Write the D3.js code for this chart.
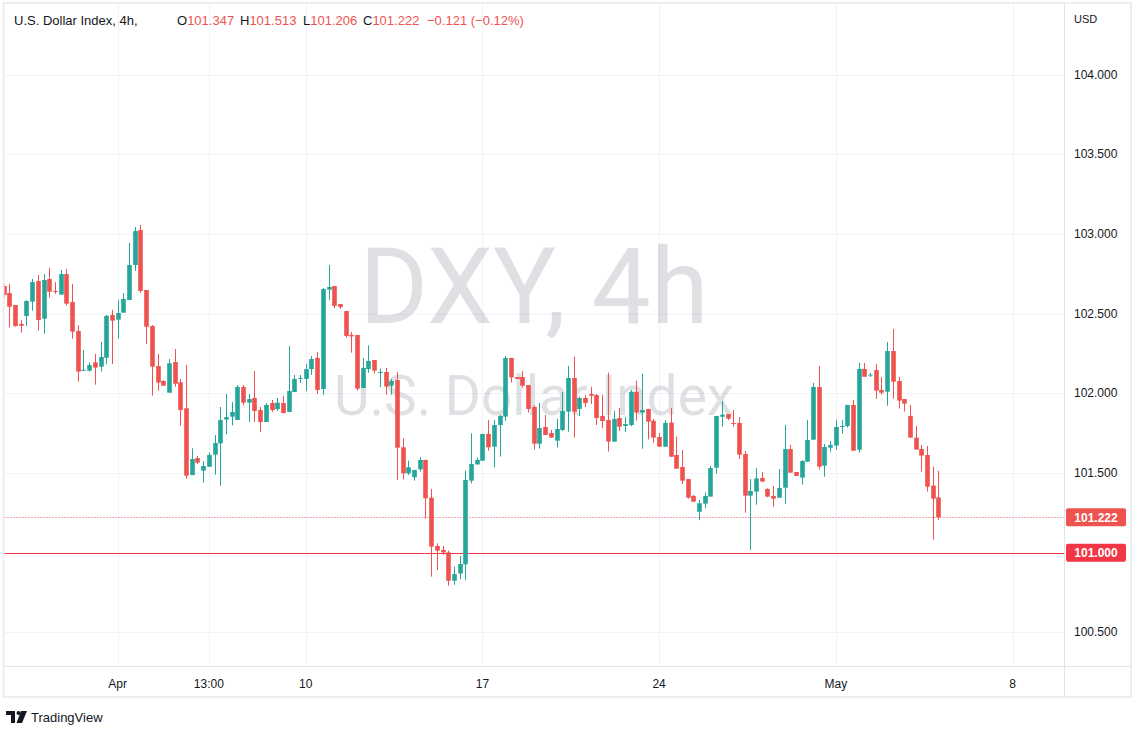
<!DOCTYPE html>
<html>
<head>
<meta charset="utf-8">
<script src="https://cdn.jsdelivr.net/npm/d3@7"></script>
<style>
  body { margin: 0; background: #ffffff; }
  svg { display: block; font-family: "Liberation Sans", Arial, sans-serif; }
</style>
</head>
<body>
<svg id="chart" width="1141" height="736"></svg>
<script>
// DXY 4h candles (first one is cut by the left edge)
var opens = [
  102.673,102.629,102.554,102.435,102.485,102.575,102.704,102.468,102.717,102.642,
  102.619,102.748,102.573,102.391,102.143,102.142,102.194,102.167,102.223,102.491,
  102.462,102.506,102.585,102.805,103.024,102.648,102.422,102.171,102.077,102.004,
  102.196,102.069,101.906,101.487,101.594,101.515,101.539,101.615,101.686,101.835,
  101.853,101.833,102.040,101.941,101.971,101.895,101.820,101.939,101.901,101.939,
  101.883,102.008,102.090,102.090,102.152,102.222,102.027,102.650,102.673,102.560,
  102.516,102.366,102.366,102.033,102.152,102.209,102.127,102.134,102.048,102.083,
  101.661,101.498,101.473,101.523,101.582,101.345,101.042,101.017,101.002,100.824,
  100.870,100.927,101.452,101.554,101.577,101.745,101.665,101.801,101.854,102.222,
  102.102,102.102,102.052,101.914,101.684,101.789,101.751,101.703,101.770,101.885,
  102.096,101.902,101.971,101.996,101.989,101.858,101.832,101.697,101.845,101.795,
  101.801,102.010,101.879,101.902,101.828,101.726,101.665,101.816,101.613,101.538,
  101.462,101.356,101.257,101.308,101.352,101.533,101.853,101.870,101.814,101.814,
  101.619,101.358,101.383,101.469,101.400,101.356,101.345,101.408,101.650,101.506,
  101.471,101.571,101.709,102.040,101.546,101.659,101.672,101.791,101.795,101.927,
  101.646,102.153,102.111,102.146,102.021,102.010,102.265,102.077,101.964,101.858,
  101.722,101.651,101.613,101.421,101.347
];
var highs = [
  102.690,102.686,102.554,102.460,102.585,102.717,102.742,102.748,102.786,102.698,
  102.773,102.780,102.686,102.428,102.272,102.194,102.247,102.322,102.491,102.523,
  102.585,102.629,102.943,103.043,103.056,102.648,102.428,102.247,102.083,102.215,
  102.278,102.090,102.178,101.655,101.607,101.575,101.630,101.738,101.914,101.996,
  101.945,102.052,102.052,101.996,102.140,101.914,101.939,101.958,101.971,101.983,
  102.297,102.115,102.115,102.184,102.234,102.259,102.661,102.805,102.673,102.560,
  102.516,102.384,102.366,102.221,102.301,102.209,102.155,102.159,102.090,102.134,
  101.717,101.577,101.519,101.600,101.582,101.400,101.059,101.042,101.013,100.912,
  100.979,101.515,101.749,101.598,101.745,101.832,101.832,101.864,102.234,102.222,
  102.102,102.140,102.052,101.927,101.939,101.864,101.770,101.839,102.008,102.171,
  102.230,101.979,101.989,102.040,101.996,101.989,102.129,101.889,101.908,101.851,
  102.021,102.079,102.123,101.902,101.839,101.751,101.832,101.908,101.728,101.644,
  101.462,101.362,101.331,101.377,101.544,101.858,101.952,101.870,101.895,101.851,
  101.638,101.462,101.531,101.506,101.404,101.418,101.525,101.801,101.676,101.506,
  101.581,101.832,102.065,102.171,101.682,101.701,101.833,101.833,101.927,101.958,
  102.190,102.190,102.127,102.184,102.102,102.322,102.403,102.102,101.964,101.927,
  101.795,101.676,101.670,101.540,101.513
];
var lows = [
  102.600,102.412,102.418,102.380,102.422,102.518,102.393,102.374,102.600,102.623,
  102.619,102.550,102.343,102.073,102.140,102.136,102.054,102.136,102.184,102.184,
  102.343,102.506,102.585,102.767,102.631,102.309,101.985,102.016,102.048,102.004,
  102.042,101.797,101.464,101.487,101.556,101.439,101.539,101.489,101.420,101.743,
  101.799,101.833,101.924,101.820,101.820,101.757,101.820,101.883,101.889,101.876,
  101.883,102.008,102.065,102.014,102.115,101.996,101.989,102.585,102.535,102.529,
  102.349,102.255,102.016,102.033,102.129,102.123,102.039,101.991,101.991,101.456,
  101.460,101.487,101.452,101.508,101.213,100.850,100.891,100.985,100.793,100.799,
  100.833,100.829,101.435,101.554,101.577,101.640,101.536,101.603,101.829,102.067,
  102.090,102.035,101.879,101.646,101.653,101.738,101.722,101.659,101.763,101.759,
  101.722,101.858,101.914,101.933,101.801,101.782,101.634,101.697,101.763,101.757,
  101.793,101.828,101.653,101.711,101.690,101.665,101.665,101.602,101.527,101.431,
  101.339,101.320,101.205,101.280,101.352,101.496,101.791,101.832,101.791,101.588,
  101.251,101.017,101.301,101.446,101.347,101.289,101.345,101.307,101.502,101.481,
  101.427,101.571,101.709,101.521,101.477,101.634,101.646,101.747,101.785,101.640,
  101.628,102.104,102.102,101.966,101.991,101.922,101.966,101.904,101.885,101.722,
  101.647,101.508,101.383,101.082,101.206
];
var closes = [
  102.617,102.543,102.422,102.424,102.579,102.698,102.460,102.711,102.638,102.636,
  102.748,102.562,102.387,102.136,102.147,102.177,102.161,102.228,102.485,102.456,
  102.504,102.592,102.805,103.018,102.642,102.418,102.167,102.067,102.048,102.188,
  102.060,101.895,101.483,101.588,101.565,101.544,101.613,101.688,101.833,101.851,
  101.883,102.040,101.941,101.964,101.889,101.820,101.927,101.895,101.941,101.876,
  102.014,102.090,102.096,102.152,102.215,102.021,102.654,102.667,102.548,102.541,
  102.360,102.357,102.029,102.159,102.203,102.142,102.134,102.042,102.077,101.659,
  101.498,101.536,101.519,101.582,101.341,101.038,101.013,101.002,100.824,100.866,
  100.929,101.456,101.556,101.582,101.745,101.661,101.801,101.858,102.222,102.100,
  102.090,102.048,101.902,101.684,101.782,101.738,101.722,101.776,101.889,102.096,
  101.885,101.971,101.939,101.985,101.845,101.826,101.697,101.839,101.791,101.807,
  102.010,101.879,101.895,101.822,101.722,101.665,101.814,101.602,101.527,101.452,
  101.345,101.320,101.310,101.356,101.531,101.858,101.866,101.841,101.810,101.615,
  101.358,101.387,101.466,101.446,101.352,101.339,101.406,101.650,101.502,101.481,
  101.575,101.707,102.040,101.540,101.663,101.676,101.789,101.795,101.927,101.640,
  102.153,102.104,102.117,102.017,102.004,102.265,102.073,101.954,101.935,101.722,
  101.647,101.609,101.414,101.339,101.222
];

var priceTicks = [100.5, 101, 101.5, 102, 102.5, 103, 103.5, 104];
var timeTickIdx = [20, 36, 53, 84, 115, 146, 177];
var timeTickLabels = ["Apr", "13:00", "10", "17", "24", "May", "8"];
var lastPrice = 101.222;
var alertPrice = 101.000;

var up = "#26a69a", down = "#ef5350", alertCol = "#f23645", textCol = "#131722", gridCol = "#f0f3fa";

var svg = d3.select("#chart");
var paneL = 4.5, paneR = 1064, paneT = 4, paneB = 666;

var candles = opens.map(function(o, i) {
  return {i: i, o: o, h: highs[i], l: lows[i], c: closes[i]};
});

var x = d3.scaleLinear().domain([0, candles.length - 1]).range([3.63, 3.63 + (candles.length - 1) * 5.70]);
var y = d3.scaleLinear().domain([100.5, 104]).range([632.4, 74.5]);

svg.append("defs").append("clipPath").attr("id", "pane")
  .append("rect").attr("x", paneL).attr("y", paneT).attr("width", paneR - paneL).attr("height", paneB - paneT);

// grid
var grid = svg.append("g");
grid.selectAll("line.h").data(priceTicks).enter().append("line")
  .attr("x1", paneL).attr("x2", paneR)
  .attr("y1", function(d) { return Math.round(y(d)) + 0.5; })
  .attr("y2", function(d) { return Math.round(y(d)) + 0.5; })
  .attr("stroke", gridCol).attr("stroke-width", 1);
grid.selectAll("line.v").data(timeTickIdx).enter().append("line")
  .attr("y1", paneT).attr("y2", paneB)
  .attr("x1", function(d) { return Math.round(x(d)) + 0.5; })
  .attr("x2", function(d) { return Math.round(x(d)) + 0.5; })
  .attr("stroke", gridCol).attr("stroke-width", 1);

// watermark
var wm = svg.append("g").attr("fill", "rgba(149,152,161,0.3)").attr("text-anchor", "middle")
  .style("font-family", "Roboto, 'Liberation Sans', sans-serif");
wm.append("text").attr("x", 534).attr("y", 323).attr("font-size", 105).text("DXY, 4h");
wm.append("text").attr("x", 534).attr("y", 415).attr("font-size", 55).text("U.S. Dollar Index");

// price lines
var yLast = Math.round(y(lastPrice)) + 0.5, yAlert = Math.round(y(alertPrice)) + 0.5;
svg.append("line").attr("x1", paneL).attr("x2", paneR).attr("y1", yLast).attr("y2", yLast)
  .style("stroke", down).style("stroke-width", "1px").style("stroke-dasharray", "1,2");
svg.append("line").attr("x1", paneL).attr("x2", paneR).attr("y1", yAlert).attr("y2", yAlert)
  .style("stroke", alertCol).style("stroke-width", "1px");

// candles
var cg = svg.append("g").attr("clip-path", "url(#pane)");
var node = cg.selectAll("g.candle").data(candles).enter().append("g")
  .attr("fill", function(d) { return d.c >= d.o ? up : down; })
  .attr("stroke", function(d) { return d.c >= d.o ? up : down; });
node.append("line")
  .attr("x1", function(d) { return Math.round(x(d.i)) + 0.5; })
  .attr("x2", function(d) { return Math.round(x(d.i)) + 0.5; })
  .attr("y1", function(d) { return y(d.h); })
  .attr("y2", function(d) { return y(d.l); })
  .attr("stroke-width", 1);
node.append("rect")
  .attr("stroke", "none")
  .attr("x", function(d) { return Math.round(x(d.i)) + 0.5 - 2.3; })
  .attr("width", 4.6)
  .attr("y", function(d) { return y(Math.max(d.o, d.c)); })
  .attr("height", function(d) { return Math.max(1, Math.abs(y(d.o) - y(d.c))); });

// axes separators and frame
svg.append("line").attr("x1", paneR + 0.5).attr("x2", paneR + 0.5).attr("y1", paneT).attr("y2", 697)
  .attr("stroke", "#e0e3eb");
svg.append("line").attr("x1", paneL).attr("x2", 1131).attr("y1", paneB + 0.5).attr("y2", paneB + 0.5)
  .attr("stroke", "#e0e3eb");
svg.append("rect").attr("x", 3.5).attr("y", 3).attr("width", 1127.5).attr("height", 694)
  .attr("fill", "none").attr("stroke", "#e9eaef").attr("stroke-width", 1.6);

// price axis
var pa = svg.append("g").attr("font-size", 12).attr("fill", textCol);
pa.selectAll("text").data(priceTicks).enter().append("text")
  .attr("x", 1074).attr("y", function(d) { return y(d) + 4; })
  .text(function(d) { return d3.format(".3f")(d); });
pa.append("text").attr("x", 1074).attr("y", 23).attr("font-size", 11).text("USD");

function priceTag(p, col) {
  var g = svg.append("g");
  g.append("rect").attr("x", 1066).attr("y", y(p) - 9).attr("width", 60).attr("height", 18)
    .attr("rx", 2).attr("fill", col);
  g.append("text").attr("x", 1096).attr("y", y(p) + 4.5).attr("text-anchor", "middle")
    .attr("font-size", 12).attr("font-weight", "bold").attr("fill", "#fff").text(d3.format(".3f")(p));
}
priceTag(lastPrice, down);
priceTag(alertPrice, alertCol);

// time axis
svg.append("g").attr("font-size", 12).attr("fill", textCol).attr("text-anchor", "middle")
  .selectAll("text").data(timeTickIdx).enter().append("text")
  .attr("x", function(d) { return x(d); }).attr("y", 688)
  .text(function(d, i) { return timeTickLabels[i]; });

// legend
var lg = svg.append("g").attr("font-size", 13);
lg.append("text").attr("x", 14).attr("y", 25).attr("fill", textCol).text("U.S. Dollar Index, 4h,");
var last = candles[candles.length - 1];
var ohlc = [["O", last.o, 177], ["H", last.h, 240], ["L", last.l, 303], ["C", last.c, 363]];
ohlc.forEach(function(v) {
  var t = lg.append("text").attr("x", v[2]).attr("y", 25);
  t.append("tspan").attr("fill", textCol).text(v[0]);
  t.append("tspan").attr("fill", down).text(d3.format(".3f")(v[1]));
});
lg.append("text").attr("x", 427).attr("y", 25).attr("fill", down).text("\u22120.121 (\u22120.12%)");

// TradingView mark
var logo = svg.append("g").attr("fill", textCol);
logo.append("path").attr("d", "M6,711 H15 V723 H11 V715 H6 Z");
logo.append("circle").attr("cx", 18.5).attr("cy", 713).attr("r", 2);
logo.append("path").attr("d", "M21,711 H27 L22,723 H16.5 Z");
logo.append("text").attr("x", 31).attr("y", 722).attr("font-size", 13).text("TradingView");
</script>
</body>
</html>
